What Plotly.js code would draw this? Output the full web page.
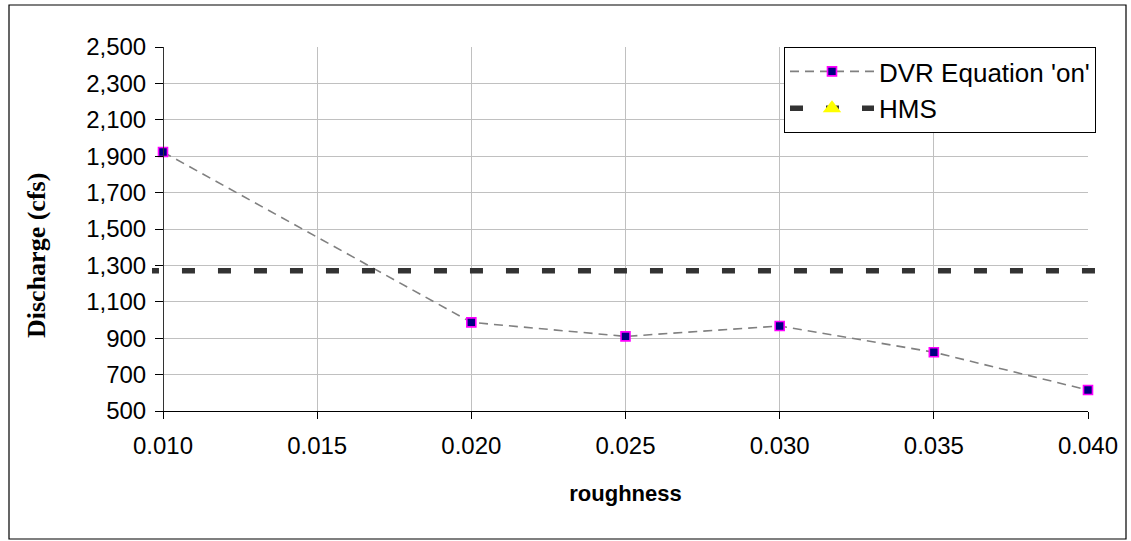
<!DOCTYPE html>
<html>
<head>
<meta charset="utf-8">
<script src="https://cdn.plot.ly/plotly-3.0.1.min.js"></script>
<style>
html,body{margin:0;padding:0;background:#fff;}
#chart{width:1131px;height:541px;}
</style>
</head>
<body>
<div id="chart"></div>
<script>
// Data
const roughness = [0.010, 0.020, 0.025, 0.030, 0.035, 0.040];
const dvrDischarge = [1923, 987, 910, 967, 823, 615];
const hmsRoughness = [0.00828, 0.041];
const hmsDischarge = [1270, 1270];
const seriesNames = ["DVR Equation 'on'", "HMS"];
const xTitle = "roughness";
const yTitle = "Discharge (cfs)";
const xRange = [0.010, 0.040];
const yRange = [500, 2500];

// Pixel layout (style only)
const PL = 152, PR = 1098, PT = 47, PB = 411;     // drawing region incl. HMS overhang
const AX0 = 163, AX1 = 1088;                       // x-axis extent
const PW = PR - PL, PH = PB - PT;
const ppu = (AX1 - AX0) / (xRange[1] - xRange[0]);
const px = v => (v - PL) / PW;   // pixel -> paper x
const py = v => (PB - v) / PH;   // pixel -> paper y

const traces = [
  {
    x: roughness, y: dvrDischarge, name: seriesNames[0],
    type: 'scatter', mode: 'lines+markers', cliponaxis: false,
    xaxis: 'x', yaxis: 'y', legendgroup: 'a',
    line: {color: '#808080', width: 1.6, dash: '9px,6px'},
    marker: {symbol: 'square', size: 9, color: '#000080', line: {color: '#FF00FF', width: 1.6}}
  },
  {
    x: hmsRoughness, y: hmsDischarge, name: seriesNames[1],
    type: 'scatter', mode: 'lines+markers', cliponaxis: true,
    xaxis: 'x2', yaxis: 'y2', legendgroup: 'b',
    line: {color: '#333333', width: 5.5, dash: '13px,23px'},
    marker: {symbol: 'triangle-up', size: 16, color: '#FFFF00', line: {width: 0}}
  }
];

const layout = {
  width: 1131, height: 541,
  margin: {l: PL, r: 1131 - PR, t: PT, b: 541 - PB, pad: 0},
  paper_bgcolor: '#fff', plot_bgcolor: 'rgba(0,0,0,0)',
  font: {family: 'Liberation Sans, Arial, sans-serif', color: '#000', size: 24},
  showlegend: true,
  legend: {
    x: px(784), y: 1, xanchor: 'left', yanchor: 'top',
    bordercolor: '#000', borderwidth: 1, bgcolor: '#fff',
    font: {size: 26, family: 'Liberation Sans, Arial, sans-serif'},
    itemwidth: 84, tracegroupgap: 0, traceorder: 'grouped'
  },
  xaxis: {
    domain: [px(AX0), px(AX1)], anchor: 'y',
    range: xRange, dtick: 0.005, tick0: 0.010, tickformat: '.3f',
    showgrid: true, gridcolor: '#C0C0C0', gridwidth: 1,
    showline: true, linecolor: '#000', linewidth: 1,
    ticks: 'outside', ticklen: 7, tickcolor: '#000',
    zeroline: false, tickfont: {size: 24}, ticklabelstandoff: 6,
    title: {text: '<b>' + xTitle + '</b>', font: {size: 22}, standoff: 27}
  },
  yaxis: {
    domain: [0, 1], anchor: 'free', position: px(AX0),
    range: yRange, dtick: 200, tick0: 500, tickformat: ',d',
    showgrid: true, gridcolor: '#C0C0C0', gridwidth: 1,
    showline: true, linecolor: '#333', linewidth: 1,
    ticks: 'outside', ticklen: 8, tickcolor: '#000',
    zeroline: false, tickfont: {size: 24}, ticklabelstandoff: 4
  },
  xaxis2: {
    domain: [0, 1], anchor: 'y2', visible: false, showgrid: false, zeroline: false,
    range: [xRange[0] - (AX0 - PL) / ppu, xRange[1] + (PR - AX1) / ppu]
  },
  yaxis2: {
    domain: [0, 1], anchor: 'x2', visible: false, showgrid: false, zeroline: false,
    range: yRange
  },
  annotations: [{
    text: '<b>' + yTitle + '</b>', textangle: -90,
    xref: 'paper', yref: 'paper', x: px(37), y: py(256),
    xanchor: 'center', yanchor: 'middle', showarrow: false,
    font: {family: 'Liberation Serif, Times New Roman, serif', size: 26, color: '#000'}
  }],
  shapes: [{
    type: 'rect', xref: 'paper', yref: 'paper',
    x0: px(9), x1: px(1126), y0: py(539), y1: py(5),
    line: {color: '#000', width: 1.2}, fillcolor: 'rgba(0,0,0,0)', layer: 'below'
  }]
};

Plotly.newPlot('chart', traces, layout, {displayModeBar: false, staticPlot: true});
</script>
</body>
</html>
